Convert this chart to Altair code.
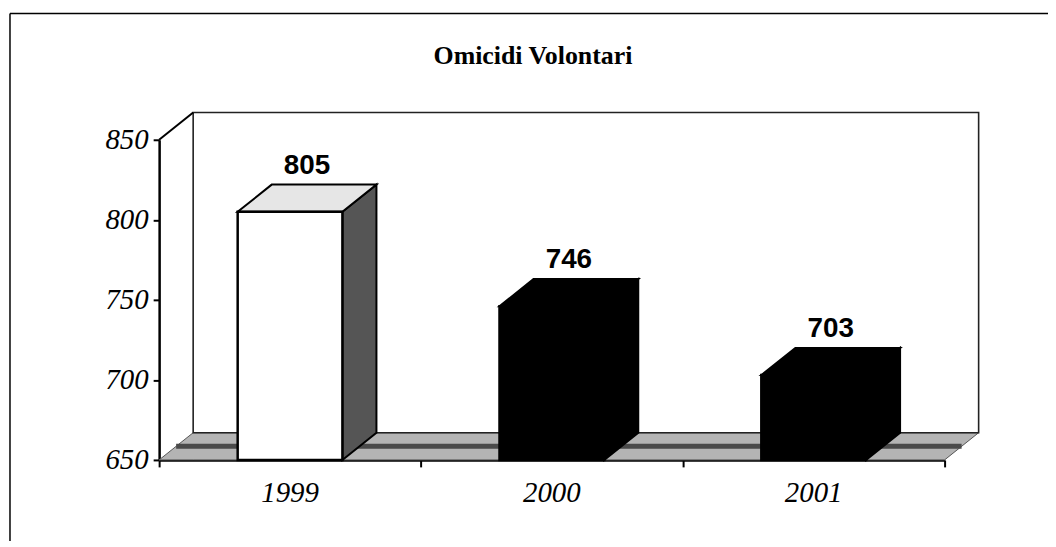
import altair as alt
import pandas as pd

# ---- data ----
years = ["1999", "2000", "2001"]
values = [805, 746, 703]
y_ticks = [650, 700, 750, 800, 850]
title_text = "Omicidi Volontari"

# ---- geometry helpers (in data units) ----
BASE, TOP = 650, 850
DX = 0.13      # depth, in category units
DZ = 17        # depth, in value units
HW = 0.2       # half bar width, in category units
XMIN, XMAX = -0.5, len(years) - 0.5

idx = list(range(len(years)))

front = pd.DataFrame({
    "year": years,
    "x": [i - HW for i in idx], "x2": [i + HW for i in idx],
    "y": [BASE] * len(years), "y2": values,
})

top_rows, side_rows = [], []
for i, (yr, v) in enumerate(zip(years, values)):
    L, R = i - HW, i + HW
    top_rows += [
        dict(year=yr, x=L, y=v, y2=v),
        dict(year=yr, x=L + DX, y=v, y2=v + DZ),
        dict(year=yr, x=R, y=v, y2=v + DZ),
        dict(year=yr, x=R + DX, y=v + DZ, y2=v + DZ),
    ]
    side_rows += [
        dict(year=yr, x=R, y=BASE, y2=v),
        dict(year=yr, x=R + DX, y=BASE + DZ, y2=v + DZ),
    ]
top = pd.DataFrame(top_rows)
side = pd.DataFrame(side_rows)

floor = pd.DataFrame([
    dict(x=XMIN, y=BASE, y2=BASE),
    dict(x=XMIN + DX, y=BASE, y2=BASE + DZ),
    dict(x=XMAX, y=BASE, y2=BASE + DZ),
    dict(x=XMAX + DX, y=BASE + DZ, y2=BASE + DZ),
])
stripe = pd.DataFrame([dict(x=XMIN + DX / 2, x2=XMAX + DX / 2, y=BASE + DZ / 2, y2=BASE + DZ / 2)])
wall = pd.DataFrame([dict(x=XMIN + DX, x2=XMAX + DX, y=BASE + DZ, y2=TOP + DZ)])
diag = pd.DataFrame([dict(x=XMIN, x2=XMIN + DX, y=TOP, y2=TOP + DZ)])
labels = pd.DataFrame({"year": years, "x": [i + DX / 2 for i in idx],
                       "y": [v + DZ for v in values], "label": [str(v) for v in values]})
year_lab = pd.DataFrame({"year": years, "x": idx, "y": [BASE] * len(years)})

# ---- scales & axes ----
xs = alt.Scale(domain=[XMIN, XMAX], nice=False, zero=False)
ys = alt.Scale(domain=[BASE, TOP], nice=False, zero=False)
xaxis = alt.Axis(values=[XMIN + k for k in range(len(years) + 1)], labels=False, title=None,
                 grid=False, tickSize=7, tickWidth=2, tickColor="black",
                 domainColor="black", domainWidth=2.5)
yaxis = alt.Axis(values=y_ticks, title=None, grid=False, tickSize=6, tickWidth=2,
                 tickColor="black", domainColor="black", domainWidth=2.5,
                 labelFont="Liberation Serif", labelFontStyle="italic", labelFontSize=29,
                 labelColor="black", labelPadding=5)

X = alt.X("x:Q", scale=xs, axis=xaxis)
Y = alt.Y("y:Q", scale=ys, axis=yaxis)

is99 = "datum.year == '1999'"

floor_l = alt.Chart(floor).mark_area(fill="#b4b4b4", stroke="#555", strokeWidth=1).encode(
    x=X, y=Y, y2="y2:Q")
stripe_l = alt.Chart(stripe).mark_rule(color="#4a4a4a", strokeWidth=5).encode(
    x=X, x2="x2:Q", y=Y, y2="y2:Q")
wall_l = alt.Chart(wall).mark_rect(fill="transparent", stroke="#222", strokeWidth=1.6).encode(
    x=X, x2="x2:Q", y=Y, y2="y2:Q")
diag_l = alt.Chart(diag).mark_rule(color="black", strokeWidth=2).encode(
    x=X, x2="x2:Q", y=Y, y2="y2:Q")

side_l = alt.Chart(side).mark_area(stroke="black", strokeWidth=2).encode(
    x=X, y=Y, y2="y2:Q", detail="year:N",
    fill=alt.condition(is99, alt.value("#555555"), alt.value("black")))
top_l = alt.Chart(top).mark_area(stroke="black", strokeWidth=2).encode(
    x=X, y=Y, y2="y2:Q", detail="year:N",
    fill=alt.condition(is99, alt.value("#e6e6e6"), alt.value("black")))
front_l = alt.Chart(front).mark_rect(stroke="black", strokeWidth=2.5).encode(
    x=X, x2="x2:Q", y=Y, y2="y2:Q",
    fill=alt.condition(is99, alt.value("white"), alt.value("black")))

val_l = alt.Chart(labels).mark_text(font="Liberation Sans", fontWeight="bold", fontSize=28,
                                    baseline="alphabetic", dy=-11, color="black").encode(
    x=X, y=Y, text="label:N")
year_l = alt.Chart(year_lab).mark_text(font="Liberation Serif", fontStyle="italic", fontSize=29,
                                       baseline="top", dy=19, color="black").encode(
    x=X, y=Y, text="year:N")

title_l = alt.Chart(pd.DataFrame({"t": [title_text]})).mark_text(
    font="Liberation Serif", fontWeight="bold", fontSize=26, baseline="alphabetic",
    color="black").encode(x=alt.value(376), y=alt.value(-76), text="t:N")
frame_top = alt.Chart(pd.DataFrame({"a": [0]})).mark_rule(color="black", strokeWidth=1.5).encode(
    x=alt.value(-150), x2=alt.value(1000), y=alt.value(-127))
frame_left = alt.Chart(pd.DataFrame({"a": [0]})).mark_rule(color="black", strokeWidth=1.5).encode(
    x=alt.value(-150), y=alt.value(-127), y2=alt.value(420))

chart = alt.layer(
    floor_l, stripe_l, wall_l, diag_l, side_l, top_l, front_l, val_l, year_l,
    title_l, frame_top, frame_left
).properties(
    width=790, height=322,
    background="white",
    autosize=alt.AutoSizeParams(type="none"),
    padding={"left": 152, "top": 131, "right": 104, "bottom": 80},
).configure_view(strokeWidth=0, stroke="transparent")

chart.save("out.html", embed_options={"renderer": "svg", "actions": False})
